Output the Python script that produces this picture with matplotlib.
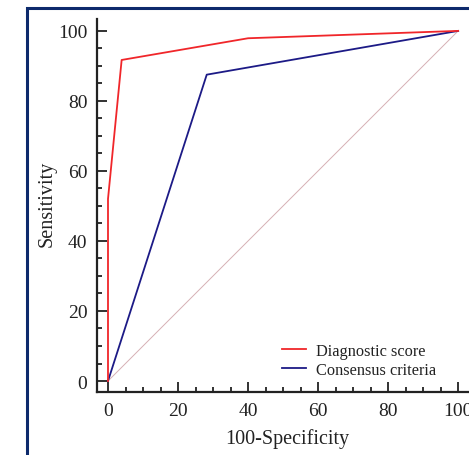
import matplotlib
matplotlib.use("Agg")
import matplotlib.pyplot as plt
from matplotlib.patches import Rectangle
from matplotlib.ticker import MultipleLocator

# ROC curve points (100-Specificity, Sensitivity)
score_fpr = [0, 0, 3.9, 40, 100]
score_tpr = [0, 52, 91.7, 97.9, 100]

consensus_fpr = [0, 28.2, 100]
consensus_tpr = [0, 87.5, 100]

diag = [0, 100]

labels = ["Diagnostic score", "Consensus criteria"]

plt.rcParams["font.family"] = ["Liberation Serif", "DejaVu Serif"]

fig = plt.figure(figsize=(4.69, 4.56), dpi=100)
ax = fig.add_axes([97 / 469, 63 / 456, 372 / 469, 373 / 456])

ax.plot(diag, diag, color="#d6b0b4", lw=0.7, zorder=1)
ax.plot(score_fpr, score_tpr, color="#f0262a", lw=1.3, label=labels[0], zorder=3)
ax.plot(consensus_fpr, consensus_tpr, color="#1c1a86", lw=1.3, label=labels[1], zorder=2)

ax.set_xlim(-3.14, 103.1)
ax.set_ylim(-3.14, 103.4)

for side in ["top", "right"]:
    ax.spines[side].set_visible(False)
for side in ["left", "bottom"]:
    ax.spines[side].set_linewidth(1.6)
    ax.spines[side].set_color("#222222")

ax.xaxis.set_major_locator(MultipleLocator(20))
ax.xaxis.set_minor_locator(MultipleLocator(5))
ax.yaxis.set_major_locator(MultipleLocator(20))
ax.yaxis.set_minor_locator(MultipleLocator(5))

ax.tick_params(which="both", direction="in", color="#222222", width=1.3,
               labelsize=14, labelcolor="#222222")
ax.tick_params(which="major", length=7, pad=7)
ax.tick_params(which="minor", length=3.8)

ax.set_xlabel("100-Specificity", fontsize=14.5, color="#222222", va="center")
ax.set_ylabel("Sensitivity", fontsize=14.5, color="#222222", va="center")
ax.xaxis.set_label_coords((287.5 - 97) / 372, -0.123)
ax.yaxis.set_label_coords((46.7 - 97) / 372, (393 - 204) / 373)

leg = ax.legend(loc="upper left", bbox_to_anchor=(0.497, 0.132), frameon=False,
                fontsize=11.8, handlelength=1.5, handletextpad=0.6,
                labelspacing=0.2, borderpad=0, borderaxespad=0)
for t in leg.get_texts():
    t.set_color("#222222")

# outer panel border
fig.patches.append(Rectangle((27 / 469, -0.2), 1.5, 0.2 + 1 - 9 / 456,
                             transform=fig.transFigure, fill=False,
                             edgecolor="#0d2a6c", lw=2.2))

fig.savefig("out.png", dpi=100)
